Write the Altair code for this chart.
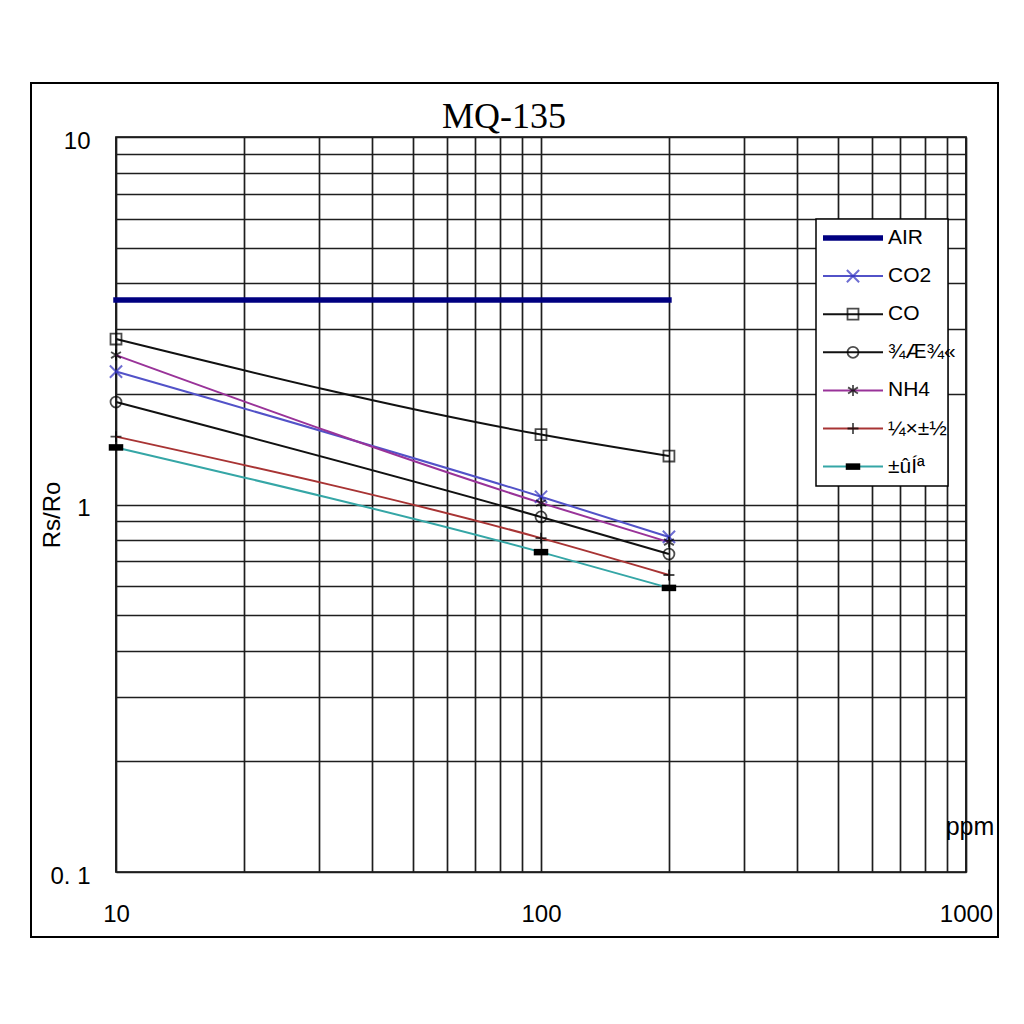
import altair as alt
import pandas as pd

# Sensitivity curves of the MQ-135 gas sensor (Rs/Ro against gas concentration)
ppm = [10, 100, 200]
air_ppm = [10, 200]
air = [3.6, 3.6]
co2 = [2.30, 1.05, 0.816]
co = [2.82, 1.55, 1.355]
alcohol = [1.90, 0.925, 0.733]
nh4 = [2.55, 1.01, 0.79]
toluene = [1.53, 0.81, 0.643]
acetone = [1.43, 0.742, 0.593]

names = ["AIR", "CO2", "CO", "¾Æ¾«", "NH4", "¼×±½", "±ûÍª"]
series = [co2, co, alcohol, nh4, toluene, acetone]

line_colors = ["#000080", "#5252C8", "#111111", "#111111", "#993399", "#A83434", "#35A6A6"]
marker_paths = [
    "M-1,-1L1,1M-1,1L1,-1",                                   # x
    "square",                                                  # open square
    "circle",                                                  # open circle
    "M0,-1L0,1M-0.9,-0.55L0.9,0.55M-0.9,0.55L0.9,-0.55",      # asterisk
    "M-1,0L1,0M0,-1L0,1",                                      # plus
    "M-1,-0.45L1,-0.45L1,0.45L-1,0.45Z",                       # filled bar
]

rows = []
for x, v in zip(air_ppm, air):
    rows.append({"gas": names[0], "ppm": x, "rs": v})
for name, vals in zip(names[1:], series):
    for x, v in zip(ppm, vals):
        rows.append({"gas": name, "ppm": x, "rs": v})
df = pd.DataFrame(rows)

legend_df = pd.DataFrame({"gas": names, "row": list(range(len(names)))})

x_ticks = [m * 10 ** e for e in (1, 2) for m in range(1, 10)] + [1000]
y_ticks = [round(m * 10.0 ** e, 6) for e in (-1, 0) for m in range(1, 10)] + [10]

FONT = "Liberation Sans"

x_scale = alt.Scale(type="log", domain=[10, 1000])
y_scale = alt.Scale(type="log", domain=[0.1, 10])
color_scale = alt.Scale(domain=names, range=line_colors)
shape_scale = alt.Scale(domain=names[1:], range=marker_paths)

x_axis = alt.Axis(
    values=x_ticks, grid=True, ticks=False, tickSize=0, domain=False, title=None,
    labelExpr="datum.value == 10 ? '10' : datum.value == 100 ? '100' : datum.value == 1000 ? '1000' : ''",
    labelFont=FONT, labelFontSize=24, labelColor="black", labelPadding=42,
    labelBaseline="middle", labelFlush=False, labelOverlap=False,
    gridColor="#1e1e1e", gridWidth=1.7, gridOpacity=1,
)
y_axis = alt.Axis(
    values=y_ticks, grid=True, ticks=False, tickSize=0, domain=False, title=None,
    labelExpr="datum.value == 10 ? '10' : datum.value == 1 ? '1' : datum.value == 0.1 ? '0. 1' : ''",
    labelFont=FONT, labelFontSize=24, labelColor="black", labelPadding=26,
    labelOffset=4, labelFlush=False, labelOverlap=False,
    gridColor="#1e1e1e", gridWidth=1.7, gridOpacity=1,
)

X = alt.X("ppm:Q", scale=x_scale, axis=x_axis)
Y = alt.Y("rs:Q", scale=y_scale, axis=y_axis)

base = alt.Chart(df)

air_line = base.transform_filter(alt.datum.gas == names[0]).mark_line(
    strokeWidth=5.5, strokeCap="square"
).encode(x=X, y=Y, color=alt.Color("gas:N", scale=color_scale, legend=None))

gas_lines = base.transform_filter(alt.datum.gas != names[0]).mark_line(
    strokeWidth=2, interpolate="monotone"
).encode(
    x=X, y=Y,
    color=alt.Color("gas:N", scale=color_scale, legend=None),
    detail="gas:N",
)


def marker_layers(chart, xenc, yenc):
    """Open markers (blue for CO2, black otherwise) and the filled bar marker."""
    shape = alt.Shape("gas:N", scale=shape_scale, legend=None)
    blue = chart.transform_filter(alt.datum.gas == names[1]).mark_point(
        filled=False, color="#3030C0", strokeWidth=2, size=150
    ).encode(x=xenc, y=yenc, shape=shape)
    opened = chart.transform_filter(
        alt.FieldOneOfPredicate(field="gas", oneOf=[names[2], names[3], names[4], names[5]])
    ).mark_point(filled=False, color="black", strokeWidth=1.8, size=120).encode(
        x=xenc, y=yenc, shape=shape
    )
    bar = chart.transform_filter(alt.datum.gas == names[6]).mark_point(
        filled=True, color="black", opacity=1, size=210
    ).encode(x=xenc, y=yenc, shape=shape)
    return [blue, opened, bar]


data_markers = marker_layers(base, X, Y)

# Legend panel, placed in plot coordinates
legend_base = alt.Chart(legend_df).transform_calculate(ly="101 + datum.row * 38.1")
LY = alt.Y("ly:Q", scale=None)

legend_box = alt.Chart(pd.DataFrame({"b": [0]})).mark_rect(
    fill="white", stroke="black", strokeWidth=1.5
).encode(x=alt.value(700), x2=alt.value(832), y=alt.value(82), y2=alt.value(349))

legend_rules = legend_base.mark_rule().encode(
    x=alt.value(707), x2=alt.value(767), y=LY,
    color=alt.Color("gas:N", scale=color_scale, legend=None),
    strokeWidth=alt.condition(alt.datum.gas == names[0], alt.value(5.5), alt.value(2)),
)
legend_markers = marker_layers(legend_base, alt.value(737), LY)
legend_text = legend_base.mark_text(
    align="left", baseline="middle", font=FONT, fontSize=21, color="black"
).encode(x=alt.value(772), y=LY, text="gas:N")

# Outer frame, title and axis captions
frame = alt.Chart(pd.DataFrame({"f": [0]})).mark_rect(
    fillOpacity=0, stroke="black", strokeWidth=2
).encode(x=alt.value(-85), x2=alt.value(882), y=alt.value(-54), y2=alt.value(800))

title = alt.Chart(pd.DataFrame({"t": ["MQ-135"]})).mark_text(
    font="Liberation Serif", fontSize=36, color="black", baseline="alphabetic", align="center"
).encode(x=alt.value(388), y=alt.value(-9), text="t:N")

y_caption = alt.Chart(pd.DataFrame({"t": ["Rs/Ro"]})).mark_text(
    font=FONT, fontSize=24, color="black", angle=270, baseline="middle", align="center"
).encode(x=alt.value(-63), y=alt.value(378), text="t:N")

x_caption = alt.Chart(pd.DataFrame({"t": ["ppm"]})).mark_text(
    font=FONT, fontSize=25, color="black", baseline="middle", align="center"
).encode(x=alt.value(854), y=alt.value(690), text="t:N")

chart = alt.layer(
    frame, air_line, gas_lines, *data_markers,
    legend_box, legend_rules, *legend_markers, legend_text,
    title, y_caption, x_caption,
).properties(
    width=850, height=735,
    autosize=alt.AutoSizeParams(type="none"),
    padding={"left": 116, "top": 137, "right": 58, "bottom": 152},
    background="white",
).configure_view(stroke="black", strokeWidth=1.7)

chart.save("out.html", embed_options={"renderer": "svg", "actions": False})
